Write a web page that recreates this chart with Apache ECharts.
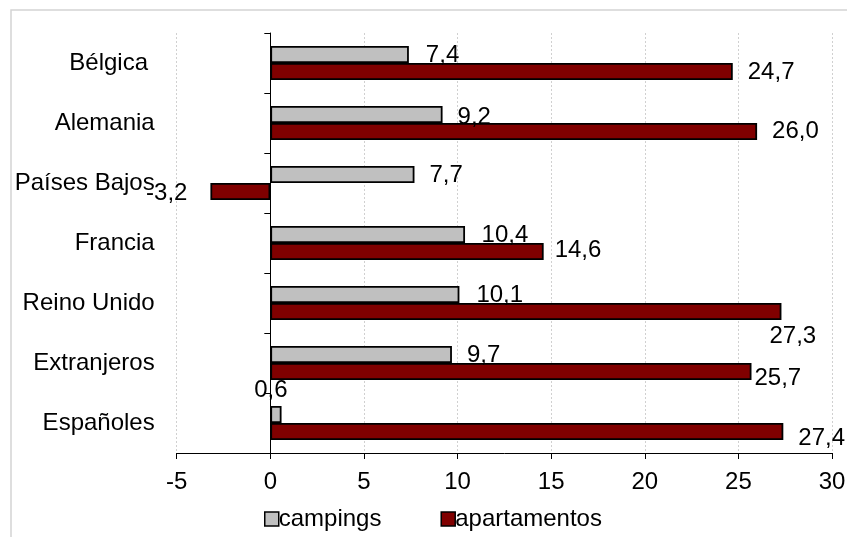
<!DOCTYPE html>
<html>
<head>
<meta charset="utf-8">
<script src="https://cdn.jsdelivr.net/npm/echarts@6/dist/echarts.min.js"></script>
<style>
html,body{margin:0;padding:0;background:#fff;}
#chart{width:847px;height:537px;}
</style>
</head>
<body>
<div id="chart"></div>
<script>
const categories = ['Bélgica ', 'Alemania', 'Países Bajos', 'Francia', 'Reino Unido', 'Extranjeros', 'Españoles'];
const campings = [7.4, 9.2, 7.7, 10.4, 10.1, 9.7, 0.6];
const apartamentos = [24.7, 26.0, -3.2, 14.6, 27.3, 25.7, 27.4];
const xTicks = { min: -5, max: 30, interval: 5 };

// label placement tweaks (pixel offsets), mirroring the reference
const campLabelAdj = [[17,1],[15,2.5],[15,0.5],[16.5,1],[17,1],[15,0.5],null];
const apLabelAdj = [[15,1],[15,0],[-23,2],[11,-1],[-12,25],[3,7],[15,7]];

const FONT = "'Liberation Sans', Arial, sans-serif";
const fmt = v => v.toFixed(1).replace('.', ',');

function buildData(values, adj) {
  return values.map((v, i) => {
    const a = adj[i];
    let label;
    if (a === null) {
      label = { show: true, position: 'top', distance: 0, offset: [-5, -4] };
    } else if (v < 0) {
      label = { show: true, position: 'left', distance: 0, offset: [a[0], a[1]] };
    } else {
      label = { show: true, position: 'right', distance: 0, offset: [a[0], a[1]] };
    }
    return { value: v, label };
  });
}

const chart = echarts.init(document.getElementById('chart'));
const commonLabel = { color: '#000', fontSize: 24, fontFamily: FONT, formatter: p => fmt(p.value) };

chart.setOption({
  animation: false,
  backgroundColor: '#fff',
  textStyle: { fontFamily: FONT },
  graphic: [{
    type: 'rect', silent: true, z: -1,
    shape: { x: 11, y: 10, width: 1000, height: 800 },
    style: { fill: 'none', stroke: '#d4d4d4', lineWidth: 1.5 }
  }],
  grid: { left: 176.7, right: 15, top: 33, bottom: 84, containLabel: false, outerBoundsMode: 'none' },
  legend: {
    left: 259, top: 502,
    itemWidth: 14, itemHeight: 14, itemGap: 59,
    textStyle: { fontSize: 24, fontFamily: FONT, color: '#000', padding: [0,0,0,-5] },
    data: [
      { name: 'campings', icon: 'rect', itemStyle: { color: '#c0c0c0', borderColor: '#000', borderWidth: 1.5 } },
      { name: 'apartamentos', icon: 'rect', itemStyle: { color: '#800000', borderColor: '#000', borderWidth: 1.5 } }
    ]
  },
  xAxis: {
    type: 'value', min: xTicks.min, max: xTicks.max, interval: xTicks.interval,
    axisLine: { show: true, lineStyle: { color: '#000', width: 1 } },
    axisTick: { show: true, length: 6, lineStyle: { color: '#000' } },
    axisLabel: { fontSize: 24, fontFamily: FONT, color: '#000', margin: 17 },
    splitLine: { show: true, lineStyle: { color: '#d0d0d0', type: [2, 2], width: 1 } }
  },
  yAxis: {
    type: 'category', data: categories, inverse: true,
    axisLine: { show: true, onZero: true, lineStyle: { color: '#000', width: 1 } },
    axisTick: { show: true, length: 6, lineStyle: { color: '#000' } },
    axisLabel: { fontSize: 24, fontFamily: FONT, color: '#000', margin: 22 },
    splitLine: { show: false }
  },
  series: [
    {
      name: 'campings', type: 'bar', barWidth: 17, barGap: '0%',
      itemStyle: { color: '#c0c0c0', borderColor: '#000', borderWidth: 1.8 },
      label: commonLabel,
      data: buildData(campings, campLabelAdj)
    },
    {
      name: 'apartamentos', type: 'bar', barWidth: 17, barGap: '0%',
      itemStyle: { color: '#800000', borderColor: '#000', borderWidth: 1.8 },
      label: commonLabel,
      data: buildData(apartamentos, apLabelAdj)
    }
  ]
});
</script>
</body>
</html>
